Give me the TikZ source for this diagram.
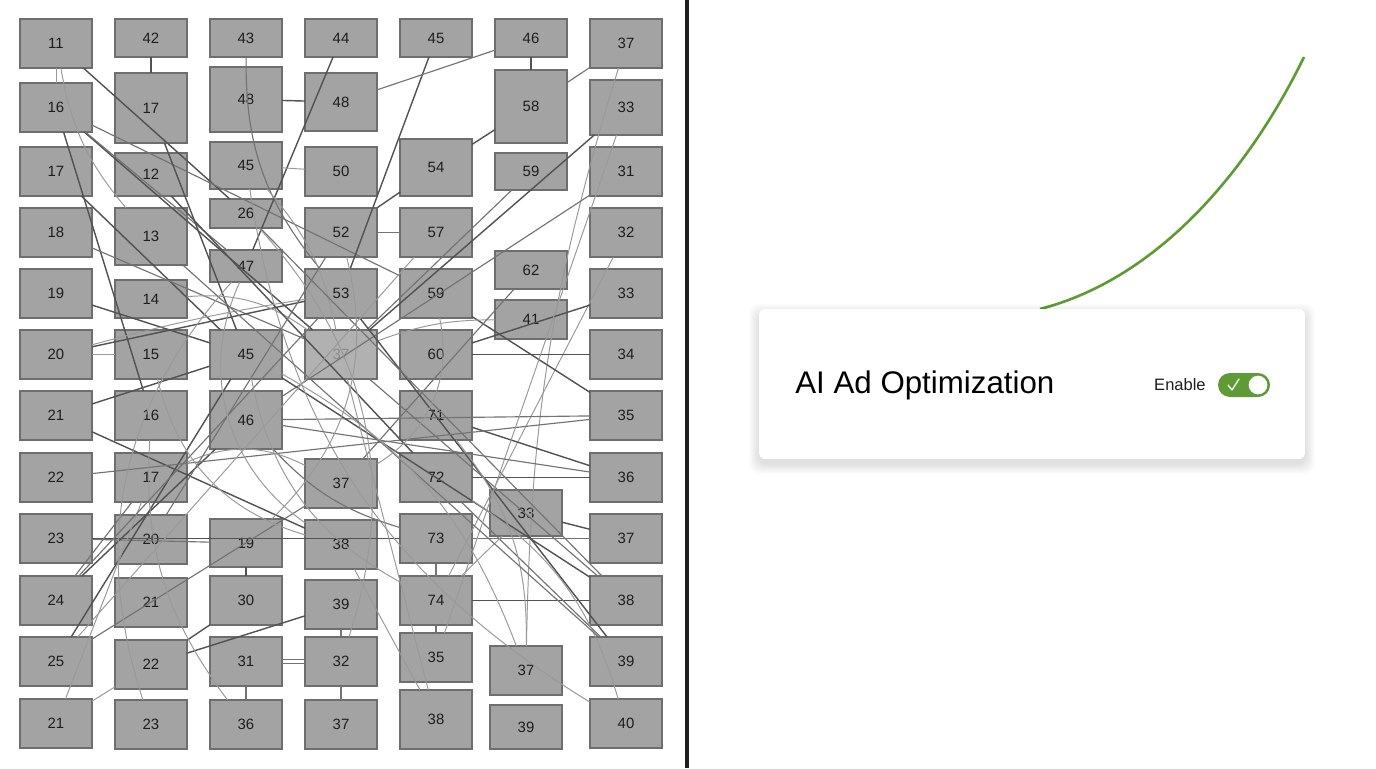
\documentclass[tikz,border=0pt]{standalone}
\usepackage{fontspec}
\setmainfont{Liberation Sans}
\usepackage{xcolor}
\usepackage{tikz}
\usetikzlibrary{arrows.meta,positioning}
\definecolor{tilegray}{HTML}{A3A3A3}
\definecolor{tileedge}{HTML}{6E6E6E}
\definecolor{leafgreen}{HTML}{5E9B35}
\definecolor{inkdark}{HTML}{1E1E1E}

\begin{document}
\begin{tikzpicture}[x=0.02cm,y=-0.02cm,
  tile/.style={draw=tileedge,line width=0.6pt,fill=tilegray,inner sep=0pt,outer sep=0pt,minimum width=1.44cm,text=inkdark,font=\fontsize{8.5}{10}\selectfont},
  wire/.style={draw=black!55,line width=0.65pt},
  wirelt/.style={draw=black!40,line width=0.55pt},
  wiredk/.style={draw=black!68,line width=0.8pt},
  card/.style={fill=white,rounded corners=0.12cm,inner sep=0pt,minimum width=10.92cm,minimum height=3cm},
  trend/.style={draw=leafgreen,line width=1.5pt}]
\useasboundingbox (0,0) rectangle (1376,768);
\fill[white] (0,0) rectangle (1376,768);
% left panel: grid of tiles
\foreach \n/\t/\b/\l in {a1/19/68/11,a2/83/132/16,a3/147/196/17,a4/208/257/18,a5/269/318/19,a6/330/379/20,a7/391/440/21,a8/453/502/22,a9/514/563/23,a10/576/625/24,a11/637/686/25,a12/699/748/21}
  \node[tile,minimum height={(\b-\t)*0.02cm}] (\n) at (56,{(\t+\b)/2}) {\l};
\foreach \n/\t/\b/\l in {b1/19/57/42,b2/73/143/17,b3/153/196/12,b4/208/265/13,b5/280/318/14,b6/330/379/15,b7/391/440/16,b8/453/502/17,b9/515/564/20,b10/578/627/21,b11/640/689/22,b12/700/749/23}
  \node[tile,minimum height={(\b-\t)*0.02cm}] (\n) at (151,{(\t+\b)/2}) {\l};
\foreach \n/\t/\b/\l in {c1/19/57/43,c2/67/132/48,c3/142/189/45,c4/199/228/26,c5/250/282/47,c6/330/379/45,c7/391/449/46,c8/519/567/19,c9/576/625/30,c10/637/686/31,c11/700/749/36}
  \node[tile,minimum height={(\b-\t)*0.02cm}] (\n) at (246,{(\t+\b)/2}) {\l};
\foreach \n/\t/\b/\l in {d1/19/57/44,d2/73/131/48,d3/147/196/50,d4/208/257/52,d5/269/318/53,d7/459/508/37,d8/520/569/38,d9/580/629/39,d10/637/686/32,d11/700/749/37}
  \node[tile,minimum height={(\b-\t)*0.02cm}] (\n) at (341,{(\t+\b)/2}) {\l};
\node[tile,fill=tilegray!85,text=black!45,minimum height=0.98cm] (d6) at (341,354.5) {37};
\foreach \n/\t/\b/\l in {e1/19/57/45,e2/139/196/54,e3/208/257/57,e4/269/318/59,e5/330/379/60,e6/391/440/71,e7/453/502/72,e8/514/563/73,e9/576/625/74,e10/633/682/35,e11/690/749/38}
  \node[tile,minimum height={(\b-\t)*0.02cm}] (\n) at (436,{(\t+\b)/2}) {\l};
\foreach \n/\t/\b/\l in {f1/19/57/46,f2/70/143/58,f3/153/190/59,f4/251/289/62,f5/300/339/41}
  \node[tile,minimum height={(\b-\t)*0.02cm}] (\n) at (531,{(\t+\b)/2}) {\l};
\foreach \n/\t/\b/\l in {f6/490/536/33,f7/646/695/37,f8/705/749/39}
  \node[tile,minimum height={(\b-\t)*0.02cm}] (\n) at (526,{(\t+\b)/2}) {\l};
\foreach \n/\t/\b/\l in {g1/19/68/37,g2/80/135/33,g3/147/196/31,g4/208/257/32,g5/269/318/33,g6/330/379/34,g7/391/440/35,g8/453/502/36,g9/514/563/37,g10/576/625/38,g11/637/686/39,g12/699/748/40}
  \node[tile,minimum height={(\b-\t)*0.02cm}] (\n) at (626,{(\t+\b)/2}) {\l};
% tangle of wires
\draw[wiredk] (a1) -- (c4);
\draw[wirelt] (a1) to[bend right=15] (b4);
\draw[wirelt] (a1) -- (a2);
\draw[wiredk] (b1) -- (b2);
\draw[wiredk] (a2) -- (d6);
\draw[wire] (a2) -- (e4);
\draw[wiredk] (a2) -- (b7);
\draw[wire] (a2) -- (c5);
\draw[wiredk] (a3) -- (c6);
\draw[wire] (a4) -- (d6);
\draw[wire] (c1) to[bend right=20] (d5);
\draw[wiredk] (d1) -- (c5);
\draw[wiredk] (c2) -- (d2);
\draw[wiredk] (b2) -- (c6);
\draw[wiredk] (e1) -- (d5);
\draw[wire] (d2) -- (f1);
\draw[wiredk] (f1) -- (f2);
\draw[wire] (f2) -- (g1);
\draw[wirelt] (g1) to[bend right=8] (f7);
\draw[wiredk] (g2) -- (d6);
\draw[wiredk] (f2) -- (e2);
\draw[wiredk] (e2) -- (d4);
\draw[wire] (d4) -- (e3);
\draw[wire] (f3) -- (d6);
\draw[wire] (g3) -- (c7);
\draw[wirelt] (g4) -- (e9);
\draw[wiredk] (g5) -- (e5);
\draw[wiredk] (e5) -- (g6);
\draw[wiredk] (e4) -- (g7);
\draw[wire] (g7) -- (c7);
\draw[wiredk] (e6) -- (g8);
\draw[wiredk] (g8) -- (e7);
\draw[wirelt] (f5) to[bend right=10] (d6);
\draw[wire] (f4) -- (d7);
\draw[wire] (a9) -- (c8);
\draw[wiredk] (a9) -- (e8);
\draw[wiredk] (a10) -- (c7);
\draw[wire] (a10) -- (b8);
\draw[wiredk] (a11) -- (c6);
\draw[wire] (a11) -- (d7);
\draw[wirelt] (a12) -- (b11);
\draw[wirelt] (a12) -- (b8);
\draw[wiredk] (b11) -- (c9);
\draw[wiredk] (b11) -- (d9);
\draw[wire] (c10.east) ++(0,-2) -- ++(23,0);
\draw[wire] (c10.east) ++(0,2) -- ++(23,0);
\draw[wire] (c10) -- (c11);
\draw[wiredk] (c8) -- (c9);
\draw[wire] (d10) -- (d11);
\draw[wire] (d9) -- (d10);
\draw[wiredk] (f6) -- (g9);
\draw[wire] (g9) -- (e8);
\draw[wiredk] (g10) -- (e9);
\draw[wiredk] (g10) -- (c6);
\draw[wire] (g10) -- (d6);
\draw[wiredk] (g11) -- (d5);
\draw[wire] (g11) -- (e7);
\draw[wirelt] (g12) to[bend left=25] (c3);
\draw[wirelt] (f7) to[bend right=20] (e6);
\draw[wire] (e9) -- (e10);
\draw[wirelt] (d8) -- (e11);
\draw[wire] (e8) -- (e9);
\draw[wirelt] (f6) -- (e9);
\draw[wiredk] (a5) -- (c6);
\draw[wiredk] (a6) -- (d5);
\draw[wirelt] (a6) -- (b6);
\draw[wiredk] (a7) -- (c6);
\draw[wiredk] (a7) -- (d8);
\draw[wire] (a8) -- (g7);
\draw[wirelt] (b5) to[bend left=20] (d6);
\draw[wirelt] (c3) to[bend left=15] (d6);
\draw[wire] (c7) to[bend right=15] (e8);
\draw[wirelt] (d3) -- (c3);
\draw[wiredk] (b3) -- (e7);
\draw[wirelt] (b7) to[bend right=20] (c11);
\draw[wirelt] (a6) to[bend left=3] (d5);
\draw[wirelt] (b8) to[bend left=25] (d7);
\draw[wirelt] (e7) to[bend left=20] (g12);
\draw[wirelt] (c4) to[bend left=30] (d10);
\draw[wirelt] (d6) -- (e11);
\draw[wirelt] (g2) -- (e10);
\draw[wire] (c4) -- (g10);
\draw[wire] (b4) -- (g11);
\draw[wirelt] (c5) to[bend right=30] (b12);
\draw[wire] (d5) -- (a10);
\draw[wirelt] (e3) -- (a11);
\draw[wire] (c7) -- (g8);
\draw[wirelt] (c6) to[bend left=20] (f7);
\draw[wire] (d4) -- (b9);
\draw[wirelt] (c5) to[bend right=40] (d8);
\draw[wirelt] (b6) to[bend right=30] (d8);
\draw[wirelt] (d4) to[bend left=30] (c8);
\draw[wirelt] (e4) to[bend left=35] (d7);
\draw[wirelt] (c6) to[bend right=25] (e9);
% divider
\fill[inkdark] (685,0) rectangle (689,768);
% right panel: card with toggle
\coordinate (root) at (1040,309);
\coordinate (tip) at (1304,57);
\draw[trend] (root) .. controls (1160,278) and (1250,168) .. (tip);
\foreach \s in {1,...,10}
  \fill[black,opacity=0.012,rounded corners=0.2cm] (759-\s,309-\s+5) rectangle (1305+\s,459+\s+5);
\node[card] (card) at (1032,384) {};
\node[anchor=west,inner sep=0pt,font=\fontsize{17.8}{20}\selectfont,text=black] (title) at (795,385) {AI Ad Optimization};
\node[anchor=east,inner sep=0pt,font=\fontsize{9.4}{11}\selectfont,text=inkdark] (enable) at (1206,385) {Enable};
\node[fill=leafgreen,rounded corners=0.24cm,minimum width=1.04cm,minimum height=0.48cm,inner sep=0pt] (switch) at (1244,385) {};
\node[circle,fill=white,draw=leafgreen,line width=0.6pt,minimum size=0.4cm,inner sep=0pt] (knob) at (1258,385) {};
\draw[white,line width=0.7pt,line cap=round,line join=round] (1228,385) -- (1232,390) -- (1239,379);
\end{tikzpicture}
\end{document}
